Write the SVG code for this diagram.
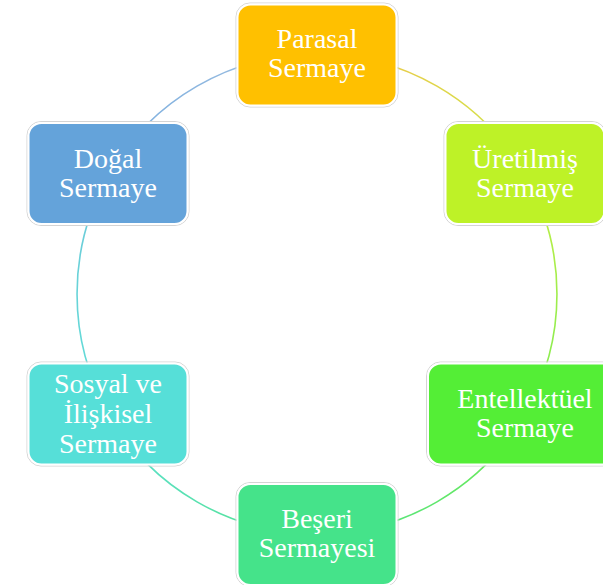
<svg xmlns="http://www.w3.org/2000/svg" width="603" height="585" viewBox="0 0 603 585">
<defs>
<style>
.box{stroke:#ffffff;stroke-width:2}
.halo{fill:none;stroke:#d4d4d4;stroke-width:1}
.lbl{font-family:"Liberation Serif","Times New Roman",serif;font-size:28px;fill:#ffffff;text-anchor:middle}
.arc{fill:none;stroke-width:1.6}
</style>
<linearGradient id="g1" gradientUnits="userSpaceOnUse" x1="317" y1="54" x2="525" y2="174"><stop offset="0" stop-color="#F2C24A"/><stop offset="1" stop-color="#CDE84A"/></linearGradient>
<linearGradient id="g2" gradientUnits="userSpaceOnUse" x1="525" y1="174" x2="525" y2="414"><stop offset="0" stop-color="#C4EE45"/><stop offset="1" stop-color="#7CEC52"/></linearGradient>
<linearGradient id="g3" gradientUnits="userSpaceOnUse" x1="525" y1="414" x2="317" y2="534"><stop offset="0" stop-color="#6DEA50"/><stop offset="1" stop-color="#52E38A"/></linearGradient>
<linearGradient id="g4" gradientUnits="userSpaceOnUse" x1="317" y1="534" x2="108" y2="414"><stop offset="0" stop-color="#52E38A"/><stop offset="1" stop-color="#5EDFD4"/></linearGradient>
<linearGradient id="g5" gradientUnits="userSpaceOnUse" x1="108" y1="414" x2="108" y2="174"><stop offset="0" stop-color="#5EDFD6"/><stop offset="1" stop-color="#70C8DA"/></linearGradient>
<linearGradient id="g6" gradientUnits="userSpaceOnUse" x1="108" y1="174" x2="317" y2="54"><stop offset="0" stop-color="#7AAEDF"/><stop offset="1" stop-color="#9FBFE0"/></linearGradient>
</defs>
<rect width="603" height="585" fill="#ffffff"/>
<g id="connectors">
<path class="arc" stroke="url(#g1)" d="M317 54 A240 240 0 0 1 524.8 174"/>
<path class="arc" stroke="url(#g2)" d="M524.8 174 A240 240 0 0 1 524.8 414"/>
<path class="arc" stroke="url(#g3)" d="M524.8 414 A240 240 0 0 1 317 534"/>
<path class="arc" stroke="url(#g4)" d="M317 534 A240 240 0 0 1 109.2 414"/>
<path class="arc" stroke="url(#g5)" d="M109.2 414 A240 240 0 0 1 109.2 174"/>
<path class="arc" stroke="url(#g6)" d="M109.2 174 A240 240 0 0 1 317 54"/>
</g>
<g id="parasal">
<rect class="halo" x="236" y="3" width="162" height="104" rx="14"/>
<rect class="box" x="237.5" y="4.5" width="159" height="101" rx="13" fill="#FFC000"/>
<text class="lbl" x="317" y="48">Parasal</text>
<text class="lbl" x="317" y="77">Sermaye</text>
</g>
<g id="uretilmis">
<rect class="halo" x="444" y="121.5" width="162" height="104" rx="14"/>
<rect class="box" x="445.5" y="123" width="159" height="101" rx="13" fill="#BEF227"/>
<text class="lbl" x="525" y="168">Üretilmiş</text>
<text class="lbl" x="525" y="197">Sermaye</text>
</g>
<g id="entellektuel">
<rect class="halo" x="426.5" y="362" width="197" height="104" rx="14"/>
<rect class="box" x="428" y="363.5" width="194" height="101" rx="13" fill="#54EE36"/>
<text class="lbl" x="525" y="408">Entellektüel</text>
<text class="lbl" x="525" y="437">Sermaye</text>
</g>
<g id="beseri">
<rect class="halo" x="236" y="482.5" width="162" height="104" rx="14"/>
<rect class="box" x="237.5" y="484" width="159" height="101" rx="13" fill="#45E38A"/>
<text class="lbl" x="317" y="528">Beşeri</text>
<text class="lbl" x="317" y="557">Sermayesi</text>
</g>
<g id="sosyal">
<rect class="halo" x="27" y="362" width="162" height="104" rx="14"/>
<rect class="box" x="28.5" y="363.5" width="159" height="101" rx="13" fill="#56DFD8"/>
<text class="lbl" x="108" y="393">Sosyal ve</text>
<text class="lbl" x="108" y="423">İlişkisel</text>
<text class="lbl" x="108" y="453">Sermaye</text>
</g>
<g id="dogal">
<rect class="halo" x="27" y="121.5" width="162" height="104" rx="14"/>
<rect class="box" x="28.5" y="123" width="159" height="101" rx="13" fill="#64A3DA"/>
<text class="lbl" x="108" y="168">Doğal</text>
<text class="lbl" x="108" y="197">Sermaye</text>
</g>
</svg>
